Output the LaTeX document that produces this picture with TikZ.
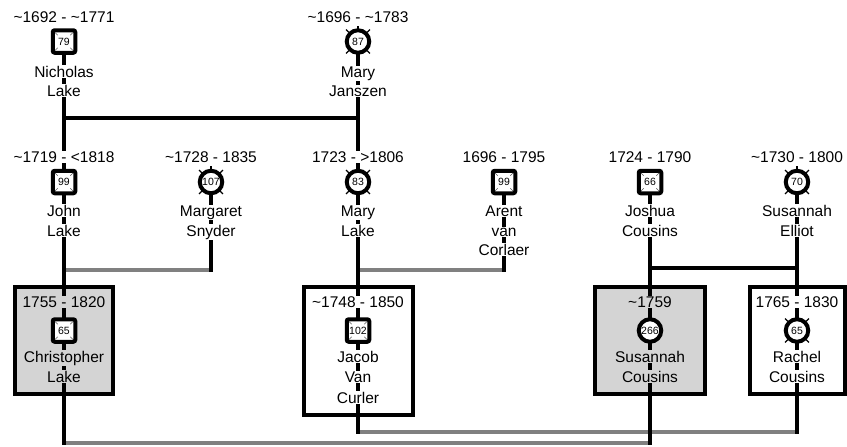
\documentclass[tikz,border=0pt]{standalone}
\usepackage{fontspec}
\setmainfont{Liberation Sans}
\newcommand\lblfont{\fontsize{15.5}{18}\selectfont}
\newcommand\numfont{\fontsize{10.5}{10.5}\selectfont}
\definecolor{linegray}{RGB}{128,128,128}
\definecolor{boxgray}{RGB}{212,212,212}
\pgfdeclarelayer{bg}
\pgfdeclarelayer{lines}
\pgfsetlayers{bg,lines,main}
\tikzset{
  lbl/.style={font=\lblfont, fill=white, inner sep=0.5pt, anchor=base},
  lblg/.style={lbl, fill=boxgray},
  maleicon/.style={draw=black, fill=white, line width=4pt, rounded corners=2pt, minimum size=22.5pt, inner sep=0pt, font=\numfont},
  femaleicon/.style={circle, draw=black, fill=white, line width=4pt, minimum size=22.5pt, inner sep=0pt, font=\numfont},
  famebox/.style={draw=black, line width=4pt, inner sep=0pt},
  blk/.style={line width=4pt, black, line cap=rect},
  gry/.style={line width=4pt, linegray},
}
\newcommand\sqticks[1]{\foreach \a in {45,135,225,315}{\draw[line width=0.6pt, black!65] ([shift={(\a:12.6)}]#1.center) -- ([shift={(\a:9)}]#1.center);}}
\newcommand\circticks[1]{\foreach \a in {45,135,225,315}{\draw[line width=1.3pt, black] ([shift={(\a:13)}]#1.center) -- ([shift={(\a:16.8)}]#1.center);}
  \foreach \a in {90,270}{\draw[line width=1.3pt, black] ([shift={(\a:13)}]#1.center) -- ([shift={(\a:15.8)}]#1.center);}}
\begin{document}
\begin{tikzpicture}[x=1pt,y=-1pt]
\useasboundingbox (0,0) rectangle (847,447);
% ---------- row 1 ----------
\node[maleicon] (nicholas) at (64,41.5) {79}; \sqticks{nicholas}
\node[lbl] (nicholasD) at (64,23) {\textasciitilde1692 - \textasciitilde1771};
\node[lbl] (nicholasN1) at (64,77) {Nicholas};
\node[lbl] (nicholasN2) at (64,96) {Lake};

\node[femaleicon] (janszen) at (358,41.5) {87}; \circticks{janszen}
\node[lbl] (janszenD) at (358,23) {\textasciitilde1696 - \textasciitilde1783};
\node[lbl] (janszenN1) at (358,77) {Mary};
\node[lbl] (janszenN2) at (358,96) {Janszen};
% ---------- row 2 ----------
\node[maleicon] (john) at (64,182) {99}; \sqticks{john}
\node[lbl] (johnD) at (64,162) {\textasciitilde1719 - <1818};
\node[lbl] (johnN1) at (64,216) {John};
\node[lbl] (johnN2) at (64,236) {Lake};

\node[femaleicon] (snyder) at (211,182) {107}; \circticks{snyder}
\node[lbl] (snyderD) at (211,162) {\textasciitilde1728 - 1835};
\node[lbl] (snyderN1) at (211,216) {Margaret};
\node[lbl] (snyderN2) at (211,236) {Snyder};

\node[femaleicon] (marylake) at (358,182) {83}; \circticks{marylake}
\node[lbl] (marylakeD) at (358,162) {1723 - >1806};
\node[lbl] (marylakeN1) at (358,216) {Mary};
\node[lbl] (marylakeN2) at (358,236) {Lake};

\node[maleicon] (corlaer) at (504,182) {99}; \sqticks{corlaer}
\node[lbl] (corlaerD) at (504,162) {1696 - 1795};
\node[lbl] (corlaerN1) at (504,216) {Arent};
\node[lbl] (corlaerN2) at (504,236) {van};
\node[lbl] (corlaerN3) at (504,255) {Corlaer};

\node[maleicon] (joshua) at (650,182) {66}; \sqticks{joshua}
\node[lbl] (joshuaD) at (650,162) {1724 - 1790};
\node[lbl] (joshuaN1) at (650,216) {Joshua};
\node[lbl] (joshuaN2) at (650,236) {Cousins};

\node[femaleicon] (elliot) at (797,182) {70}; \circticks{elliot}
\node[lbl] (elliotD) at (797,162) {\textasciitilde1730 - 1800};
\node[lbl] (elliotN1) at (797,216) {Susannah};
\node[lbl] (elliotN2) at (797,236) {Elliot};
% ---------- row 3 ----------
\node[maleicon] (chris) at (64,330.5) {65}; \sqticks{chris}
\node[lblg] (chrisD) at (64,307) {1755 - 1820};
\node[lblg] (chrisN1) at (64,362) {Christopher};
\node[lblg] (chrisN2) at (64,382) {Lake};

\node[maleicon] (jacob) at (358,330.5) {102}; \sqticks{jacob}
\node[lbl] (jacobD) at (358,307) {\textasciitilde1748 - 1850};
\node[lbl] (jacobN1) at (358,362) {Jacob};
\node[lbl] (jacobN2) at (358,382) {Van};
\node[lbl] (jacobN3) at (358,403) {Curler};

\node[femaleicon] (susc) at (650,330.5) {266};
\node[lblg] (suscD) at (650,307) {\textasciitilde1759};
\node[lblg] (suscN1) at (650,362) {Susannah};
\node[lblg] (suscN2) at (650,382) {Cousins};

\node[femaleicon] (rachel) at (797,330.5) {65}; \circticks{rachel}
\node[lbl] (rachelD) at (797,307) {1765 - 1830};
\node[lbl] (rachelN1) at (797,362) {Rachel};
\node[lbl] (rachelN2) at (797,382) {Cousins};
% ---------- junctions ----------
\coordinate (jA1) at (64,118);  \coordinate (jA2) at (358,118);
\coordinate (jB1) at (64,270);  \coordinate (jB2) at (211,270);
\coordinate (jC1) at (358,270); \coordinate (jC2) at (504,270);
\coordinate (jD1) at (650,268); \coordinate (jD2) at (797,268);
\coordinate (jE1) at (64,443);  \coordinate (jE2) at (650,443);
\coordinate (jF1) at (358,432); \coordinate (jF2) at (797,432);
% ---------- boxes ----------
\begin{pgfonlayer}{bg}
\node[famebox, fill=boxgray, minimum width=98, minimum height=107] (boxChris) at (64,340.5) {};
\node[famebox, fill=white, minimum width=109, minimum height=128] (boxJacob) at (358.5,351) {};
\node[famebox, fill=boxgray, minimum width=110, minimum height=107] (boxSusc) at (650,340.5) {};
\node[famebox, fill=white, minimum width=95, minimum height=107] (boxRachel) at (797.5,340.5) {};
\end{pgfonlayer}
% ---------- connectors ----------
\begin{pgfonlayer}{lines}
\draw[gry] (jB1) -- (jB2);
\draw[gry] (jC1) -- (jC2);
\draw[gry] (jE1) -- (jE2);
\draw[gry] (jF1) -- (jF2);
\draw[blk] (nicholas.center) -- (jE1);
\draw[blk] (janszen.center) -- (jF1);
\draw[blk] (jA1) -- (jA2);
\draw[blk] (snyder.center) -- (jB2);
\draw[blk] (corlaer.center) -- (jC2);
\draw[blk] (joshua.center) -- (jE2);
\draw[blk] (elliot.center) -- (jF2);
\draw[blk] (jD1) -- (jD2);
\end{pgfonlayer}
\end{tikzpicture}
\end{document}
